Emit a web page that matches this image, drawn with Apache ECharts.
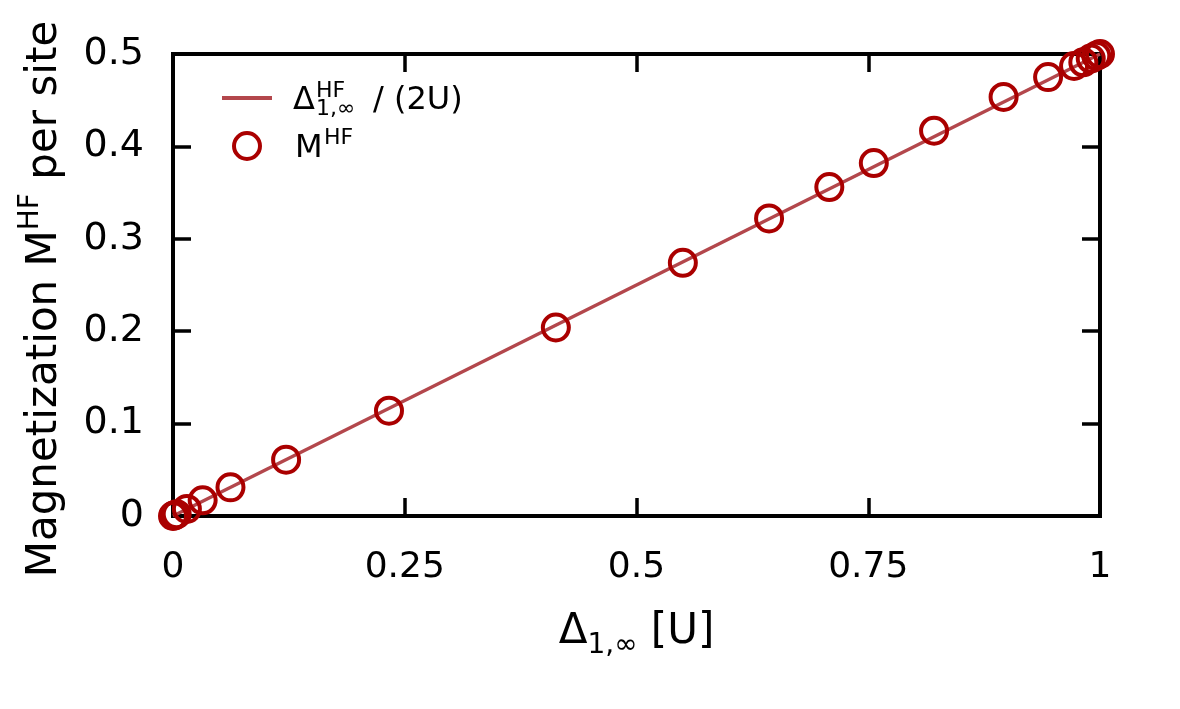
<!DOCTYPE html>
<html>
<head>
<meta charset="utf-8">
<script src="https://cdn.jsdelivr.net/npm/echarts@6/dist/echarts.min.js"></script>
<style>
html,body{margin:0;padding:0;background:#fff;}
#chart{width:1180px;height:709px;}
</style>
</head>
<body>
<div id="chart"></div>
<script>
// Data
const lineX = [0, 1];
const lineY = [0, 0.5];
const pointsX = [0, 0.001, 0.004, 0.015, 0.032, 0.062, 0.122, 0.233, 0.413, 0.550, 0.643, 0.708, 0.756, 0.821, 0.896, 0.944, 0.972, 0.982, 0.99, 0.996, 1.0];
const pointsY = [0, 0.0005, 0.002, 0.0076, 0.017, 0.031, 0.061, 0.114, 0.204, 0.274, 0.322, 0.356, 0.382, 0.417, 0.4535, 0.475, 0.487, 0.491, 0.495, 0.498, 0.5];
const xTicks = [0, 0.25, 0.5, 0.75, 1];
const yTicks = [0, 0.1, 0.2, 0.3, 0.4, 0.5];

const FONT = 'DejaVu Sans';
const lineColor = '#b3474c';
const dotColor = '#aa0000';

const chart = echarts.init(document.getElementById('chart'), null, {renderer: 'canvas'});

const tickStyle = {show: true, inside: true, length: 18, lineStyle: {color: '#000', width: 3.5}};
const noLine = {show: false, onZero: false};

const option = {
  backgroundColor: '#fff',
  animation: false,
  textStyle: {fontFamily: FONT},
  grid: {left: 173, right: 80, top: 54, bottom: 193, show: true, borderColor: '#000', borderWidth: 4, backgroundColor: 'transparent'},
  xAxis: [{
    type: 'value', min: xTicks[0], max: xTicks[xTicks.length - 1], interval: 0.25,
    axisLine: noLine, axisTick: tickStyle, splitLine: {show: false},
    axisLabel: {fontSize: 36, color: '#000', margin: 34, fontFamily: FONT},
    name: '{a|Δ}{b|1,∞}{a| [U]}', nameLocation: 'middle', nameGap: 88,
    nameTextStyle: {
      rich: {
        a: {fontSize: 42, fontFamily: FONT, color: '#000', lineHeight: 56},
        b: {fontSize: 28, fontFamily: FONT, color: '#000', lineHeight: 22, verticalAlign: 'bottom'}
      }
    }
  }, {
    type: 'value', position: 'top', min: 0, max: 1, interval: 0.25,
    axisLine: noLine, axisTick: tickStyle, axisLabel: {show: false}, splitLine: {show: false}
  }],
  yAxis: [{
    type: 'value', min: yTicks[0], max: yTicks[yTicks.length - 1], interval: 0.1,
    axisLine: noLine, axisTick: tickStyle, splitLine: {show: false},
    axisLabel: {fontSize: 38, color: '#000', margin: 29, fontFamily: FONT},
    name: '{a|Magnetization M}{s|HF}{a| per site}', nameLocation: 'middle', nameRotate: 90, nameGap: 100,
    nameTextStyle: {
      padding: [0, 28, 0, 0],
      rich: {
        a: {fontSize: 42, fontFamily: FONT, color: '#000', lineHeight: 56},
        s: {fontSize: 28, fontFamily: FONT, color: '#000', lineHeight: 22, verticalAlign: 'top'}
      }
    }
  }, {
    type: 'value', position: 'right', min: 0, max: 0.5, interval: 0.1,
    axisLine: noLine, axisTick: tickStyle, axisLabel: {show: false}, splitLine: {show: false}
  }],
  legend: {
    orient: 'vertical', left: 222, top: 85, padding: 0, itemWidth: 50, itemHeight: 26, itemGap: 31,
    formatter: () => '', selectedMode: false,
    data: [
      {name: 'line', icon: 'path://M0,11L50,11L50,15L0,15Z', itemStyle: {color: lineColor, borderWidth: 0}},
      {name: 'mhf', icon: 'circle', itemStyle: {color: 'rgba(0,0,0,0)', borderColor: dotColor, borderWidth: 4, opacity: 1}}
    ]
  },
  series: [{
    name: 'line', type: 'line', symbol: 'none', clip: false,
    data: lineX.map((x, i) => [x, lineY[i]]),
    lineStyle: {color: lineColor, width: 3.5}, itemStyle: {color: lineColor}, z: 2
  }, {
    name: 'mhf', type: 'scatter', symbol: 'circle', symbolSize: 26, clip: false,
    data: pointsX.map((x, i) => [x, pointsY[i]]),
    itemStyle: {color: 'rgba(0,0,0,0)', borderColor: dotColor, borderWidth: 4, opacity: 1}, z: 3
  }],
  graphic: [
    {type: 'text', left: 293, top: 85, style: {text: 'Δ', font: '32px "DejaVu Sans"', fill: '#000'}},
    {type: 'text', left: 316, top: 80, style: {text: 'HF', font: '22px "DejaVu Sans"', fill: '#000'}},
    {type: 'text', left: 316, top: 98, style: {text: '1,∞', font: '22px "DejaVu Sans"', fill: '#000'}},
    {type: 'text', left: 373, top: 85, style: {text: '/ (2U)', font: '32px "DejaVu Sans"', fill: '#000'}},
    {type: 'text', left: 295, top: 133, style: {text: 'M', font: '32px "DejaVu Sans"', fill: '#000'}},
    {type: 'text', left: 324, top: 127, style: {text: 'HF', font: '22px "DejaVu Sans"', fill: '#000'}}
  ]
};
chart.setOption(option);
</script>
</body>
</html>
